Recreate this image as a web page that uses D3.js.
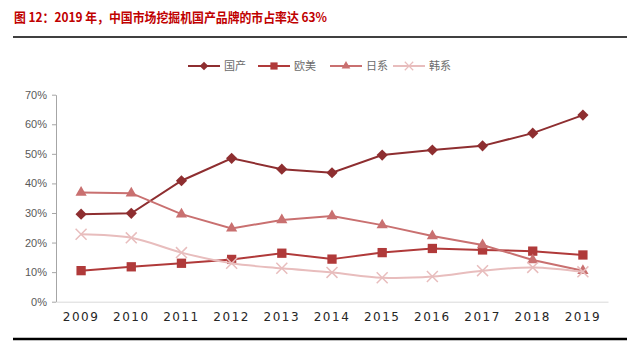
<!DOCTYPE html>
<html lang="zh">
<head>
<meta charset="UTF-8">
<script src="https://d3js.org/d3.v7.min.js"></script>
<style>
  body { margin: 0; background: #fff; font-family: "Noto Sans CJK SC", "Liberation Sans", sans-serif; }
</style>
</head>
<body>
<div id="chart"></div>
<script>
const years = ["2009","2010","2011","2012","2013","2014","2015","2016","2017","2018","2019"];
const domestic = [29.6, 29.9, 40.9, 48.5, 44.8, 43.6, 49.6, 51.3, 52.7, 57.0, 63.1];
const western  = [10.5, 11.8, 13.0, 14.3, 16.4, 14.4, 16.6, 18.0, 17.5, 17.1, 15.8];
const japanese = [36.9, 36.7, 29.6, 24.8, 27.6, 29.0, 25.9, 22.2, 19.2, 14.1, 10.5];
const korean   = [22.8, 21.6, 16.6, 13.0, 11.3, 9.9, 8.1, 8.5, 10.5, 11.6, 10.1];
const yTicks = [0, 10, 20, 30, 40, 50, 60, 70];

const series = [
  { name: "国产", values: domestic, color: "#8e2e30", symbol: d3.symbolDiamond2, size: 80, smooth: false },
  { name: "欧美", values: western,  color: "#b03a3a", symbol: d3.symbolSquare2,  size: 110, smooth: false },
  { name: "日系", values: japanese, color: "#c97070", symbol: d3.symbolTriangle2, size: 90, smooth: false },
  { name: "韩系", values: korean,   color: "#e8bdbd", symbol: d3.symbolX,        size: 80, smooth: true }
];

const W = 640, H = 353;
const svg = d3.select("#chart").append("svg").attr("width", W).attr("height", H);

// title and rules
svg.append("text").attr("x", 14).attr("y", 22)
  .attr("fill", "#c00000").attr("font-size", 13).attr("font-weight", "bold")
  .attr("textLength", 313).attr("lengthAdjust", "spacingAndGlyphs")
  .text("图 12：2019 年，中国市场挖掘机国产品牌的市占率达 63%");
svg.append("line").attr("x1", 13).attr("x2", 627).attr("y1", 37).attr("y2", 37)
  .attr("stroke", "#000").attr("stroke-width", 1.5);
svg.append("line").attr("x1", 13).attr("x2", 627).attr("y1", 339).attr("y2", 339)
  .attr("stroke", "#000").attr("stroke-width", 2.5);

const x = d3.scaleBand().domain(years).range([56, 608]);
const y = d3.scaleLinear().domain([0, 70]).range([301.7, 94.7]);

// y axis
const yAxis = svg.append("g").attr("transform", "translate(56,0)")
  .call(d3.axisLeft(y).tickValues(yTicks).tickSize(4).tickSizeOuter(0).tickFormat(d => d + "%"));
yAxis.select(".domain").attr("stroke", "#a6a6a6");
yAxis.selectAll(".tick line").attr("stroke", "#a6a6a6");
yAxis.selectAll("text").attr("fill", "#595959").attr("font-size", 11)
  .attr("font-family", "Liberation Sans, sans-serif").attr("dx", -2);

// x axis
const xAxis = svg.append("g").attr("transform", `translate(0,${y(0)})`)
  .call(d3.axisBottom(x).tickSize(0).tickPadding(11));
xAxis.select(".domain").attr("stroke", "#d9d9d9");
xAxis.selectAll("text").attr("fill", "#262626").attr("font-size", 12)
  .attr("font-family", "DejaVu Sans, sans-serif").attr("letter-spacing", 1.5);

const cx = d => x(d) + x.bandwidth() / 2;

series.forEach(s => {
  const pts = years.map((yr, i) => [cx(yr), y(s.values[i])]);
  const line = d3.line().curve(s.smooth ? d3.curveCatmullRom : d3.curveLinear);
  svg.append("path").attr("d", line(pts)).attr("fill", "none")
    .attr("stroke", s.color).attr("stroke-width", 2);
  const sym = d3.symbol().type(s.symbol).size(s.size);
  svg.selectAll(null).data(pts).enter().append("path")
    .attr("d", sym)
    .attr("transform", p => `translate(${p[0]},${p[1]})`)
    .attr("fill", s.symbol === d3.symbolX ? "none" : s.color)
    .attr("stroke", s.color)
    .attr("stroke-width", s.symbol === d3.symbolX ? 1.5 : 0);
});

// legend
const legendX = [188, 258, 330, 393];
series.forEach((s, i) => {
  const g = svg.append("g").attr("transform", `translate(${legendX[i]},66)`);
  g.append("line").attr("x1", 0).attr("x2", 32).attr("stroke", s.color).attr("stroke-width", 2);
  g.append("path").attr("d", d3.symbol().type(s.symbol).size(s.size * 0.6))
    .attr("transform", "translate(16,0)")
    .attr("fill", s.symbol === d3.symbolX ? "none" : s.color)
    .attr("stroke", s.color)
    .attr("stroke-width", s.symbol === d3.symbolX ? 1.2 : 0);
  g.append("text").attr("x", 36).attr("y", 4).attr("font-size", 11).attr("fill", "#6b6b6b")
    .text(s.name);
});
</script>
</body>
</html>
